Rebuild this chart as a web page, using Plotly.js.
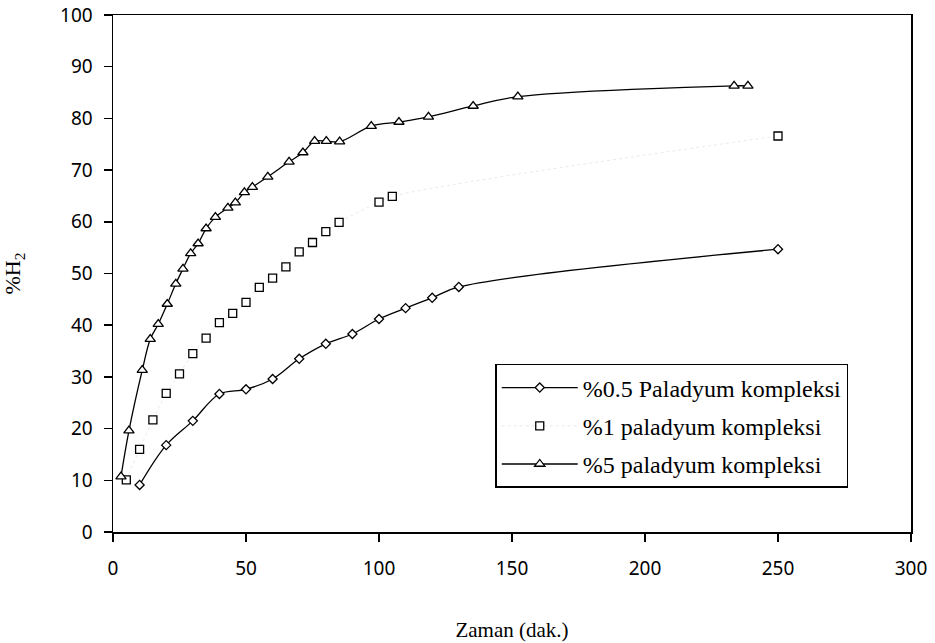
<!DOCTYPE html>
<html>
<head>
<meta charset="utf-8">
<script src="https://cdn.plot.ly/plotly-3.0.1.min.js"></script>
<style>
html,body{margin:0;padding:0;background:#fff;}
#chart{width:935px;height:643px;}
</style>
</head>
<body>
<div id="chart"></div>
<script>
// %0.5 Paladyum kompleksi
const x05 = [10, 20, 30, 40, 50, 60, 70, 80, 90, 100, 110, 120, 130, 250];
const y05 = [9.1, 16.8, 21.5, 26.7, 27.6, 29.6, 33.5, 36.4, 38.3, 41.2, 43.3, 45.3, 47.4, 54.7];
// %1 paladyum kompleksi
const x1 = [5, 10, 15, 20, 25, 30, 35, 40, 45, 50, 55, 60, 65, 70, 75, 80, 85, 100, 105, 250];
const y1 = [10.1, 16.0, 21.7, 26.8, 30.6, 34.5, 37.5, 40.5, 42.3, 44.4, 47.3, 49.1, 51.3, 54.2, 56.0, 58.1, 59.9, 63.8, 64.9, 76.6];
// %5 paladyum kompleksi
const x5 = [3, 6, 11, 14, 17, 20.4, 23.6, 26.3, 29.2, 32, 35, 38.5, 43.2, 46, 49.4, 52.4, 58.2, 66.2, 71.4, 75.8, 80.2, 85.2, 97.1, 107.5, 118.6, 135.4, 152.2, 233.5, 238.7];
const y5 = [10.7, 19.6, 31.3, 37.3, 40.2, 44.1, 48.0, 50.9, 53.9, 55.8, 58.7, 60.9, 62.7, 63.7, 65.7, 66.7, 68.7, 71.6, 73.4, 75.6, 75.6, 75.5, 78.5, 79.3, 80.3, 82.4, 84.2, 86.3, 86.3];

const names = ['%0.5 Paladyum kompleksi', '%1 paladyum kompleksi', '%5 paladyum kompleksi'];
const xTicks = [0, 50, 100, 150, 200, 250, 300];
const yTicks = [0, 10, 20, 30, 40, 50, 60, 70, 80, 90, 100];

const SERIF = "Liberation Serif";
const SANS = "Noto Sans";

const traces = [
  {x: x05, y: y05, name: names[0], legendgroup: 'g1', mode: 'lines+markers', type: 'scatter',
   line: {color: '#000', width: 1.3, shape: 'spline', smoothing: 1},
   marker: {symbol: 'diamond', size: 7, color: '#fff', line: {color: '#000', width: 1.3}}},
  {x: x1, y: y1, name: names[1], legendgroup: 'g2', mode: 'lines+markers', type: 'scatter',
   line: {color: 'rgba(0,0,0,0.09)', width: 1, dash: 'dot', shape: 'spline', smoothing: 1},
   marker: {symbol: 'square', size: 8, color: '#fff', line: {color: '#000', width: 1.3}}},
  {x: x5, y: y5, name: names[2], legendgroup: 'g3', mode: 'lines+markers', type: 'scatter',
   line: {color: '#000', width: 1.3, shape: 'spline', smoothing: 1},
   marker: {symbol: 'triangle-up', size: 9, color: '#fff', line: {color: '#000', width: 1.3}}}
];

const layout = {
  width: 935, height: 643,
  margin: {l: 113, r: 24, t: 15, b: 111},
  paper_bgcolor: '#fff', plot_bgcolor: '#fff',
  font: {family: SERIF, color: '#000'},
  showlegend: true,
  legend: {
    x: 0.479, y: 0.325, xanchor: 'left', yanchor: 'top',
    bgcolor: '#fff', bordercolor: '#000', borderwidth: 1.5,
    font: {family: SERIF, size: 24, color: '#000'},
    itemwidth: 76, tracegroupgap: 4
  },
  xaxis: {
    range: [0, 300], tickvals: xTicks, ticktext: xTicks.map(String),
    showgrid: false, zeroline: false,
    showline: true, linecolor: '#000', linewidth: 1.5, mirror: true,
    ticks: 'outside', ticklen: 8, tickwidth: 1.5, tickcolor: '#000',
    ticklabelstandoff: 11,
    tickfont: {family: SANS, size: 19, color: '#000'},
    title: {text: 'Zaman (dak.)', standoff: 42,
      font: {family: SERIF, size: 21, color: '#000'}}
  },
  yaxis: {
    range: [0, 100], tickvals: yTicks, ticktext: yTicks.map(String),
    showgrid: false, zeroline: false,
    showline: true, linecolor: '#000', linewidth: 1.5, mirror: true,
    ticks: 'outside', ticklen: 8, tickwidth: 1.5, tickcolor: '#000',
    ticklabelstandoff: 7,
    tickfont: {family: SANS, size: 19, color: '#000'},
    title: {text: '%H<sub>2</sub>', standoff: 34,
      font: {family: SERIF, size: 22, color: '#000'}}
  }
};

Plotly.newPlot('chart', traces, layout, {displayModeBar: false, staticPlot: true});
</script>
</body>
</html>
